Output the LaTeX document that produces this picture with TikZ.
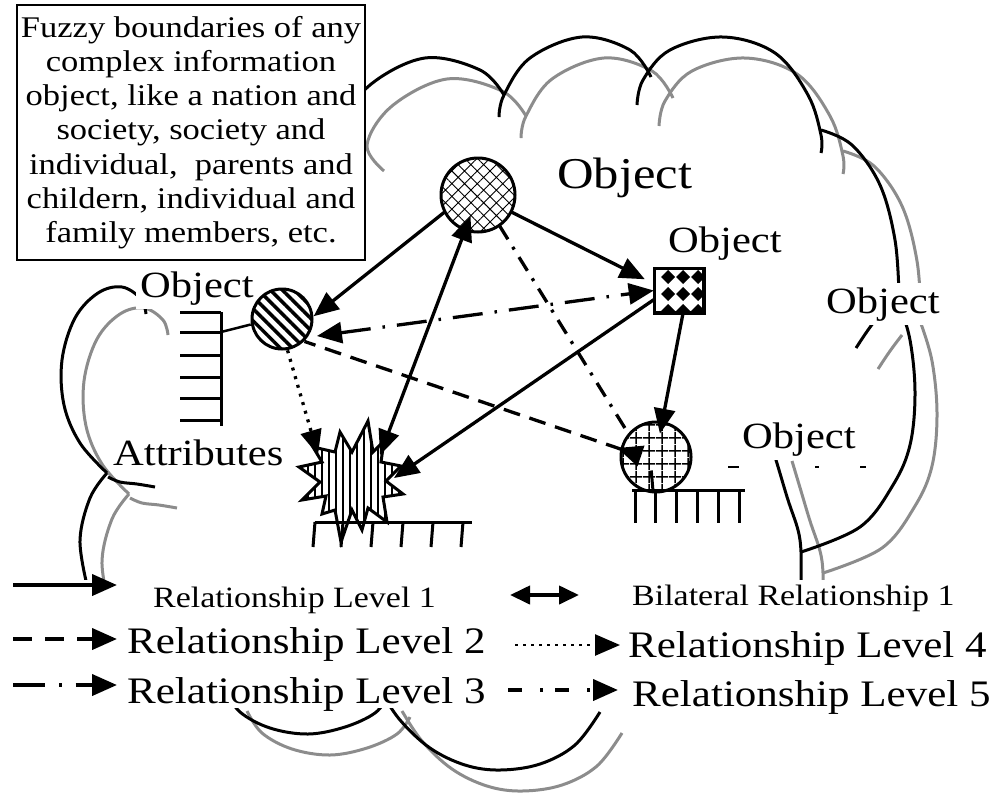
\documentclass[tikz,border=0pt]{standalone}
\usepackage{fontspec}
\setmainfont{Liberation Serif}[FakeStretch=1.15]
\usetikzlibrary{arrows.meta,patterns.meta}

\definecolor{cloudgray}{RGB}{140,140,140}

\newcommand{\notefont}{\fontsize{30}{34.2}\selectfont}
\newcommand{\objfont}{\fontsize{37}{40}\selectfont}
\newcommand{\bigobjfont}{\fontsize{44}{48}\selectfont}
\newcommand{\legfont}{\fontsize{37.4}{40}\selectfont}
\newcommand{\smalllegfont}{\fontsize{29.5}{32}\selectfont}

% one outline of the cloud, drawn twice (grey copy shifted)
\newcommand{\cloudoutline}{%
  \draw plot[smooth, tension=0.6] coordinates {(362,150) (345,124) (370,85) (425,58) (480,70) (504,95)};
  \draw plot[smooth, tension=0.6] coordinates {(499,117) (504,95) (530,58) (582,37) (630,50) (651,77)};
  \draw plot[smooth, tension=0.6] coordinates {(637,105) (643,80) (670,50) (723,37) (775,53) (808,95) (821,135) (821,153)};
  \draw plot[smooth, tension=0.6] coordinates {(821,130) (852,145) (880,185) (895,240) (899,295)};
  \draw plot[smooth, tension=0.6] coordinates {(856,348) (868,330) (880,314)};
  \draw plot[smooth, tension=0.6] coordinates {(898,300) (910,340) (915,393) (910,445) (893,485) (860,527) (801,552)};
  \draw plot[smooth, tension=0.6] coordinates {(770,440) (779,470) (788,500) (798,530) (801,552) (801,585)};
  \draw plot[smooth, tension=0.6] coordinates {(146,314) (141,299) (122,287) (98,293) (75,318) (62,360) (64,405) (80,443) (107,473)};
  \draw plot[smooth, tension=0.6] coordinates {(107,473) (90,498) (80,540) (87,585)};
  \draw plot[smooth, tension=0.6] coordinates {(108,477) (120,482) (137,484) (155,487)};
  \draw plot[smooth, tension=0.6] coordinates {(225,690) (240,712) (270,728) (308,734) (345,727) (375,713) (388,696)};
  \draw plot[smooth, tension=0.6] coordinates {(380,690) (400,720) (430,748) (465,765) (500,770) (540,764) (575,745) (600,712)};
}

\tikzset{
  objlabel/.style={fill=white, inner sep=4pt, anchor=base west, font=\objfont},
  legtext/.style={inner sep=0pt, anchor=base west, font=\legfont},
  rel/.style={line width=3.3pt},
  relhead/.style={-{Triangle[length=25pt,width=21pt]}},
  bothheads/.style={{Triangle[length=25pt,width=21pt]}-{Triangle[length=25pt,width=21pt]}},
  rel2/.style={rel, dash pattern=on 17pt off 10pt},
  rel3/.style={rel, dash pattern=on 30pt off 12pt on 2.5pt off 12pt},
  rel4/.style={rel, dash pattern=on 3pt off 6pt},
  rel5/.style={rel, dash pattern=on 16pt off 9pt on 3pt off 9pt},
  legline/.style={line width=4pt},
  leghead/.style={-{Triangle[length=25pt,width=21pt]}},
  comb/.style={line width=3pt},
}

\begin{document}
\begin{tikzpicture}[x=1pt, y=-1pt]

\useasboundingbox (0,0) rectangle (992,801);

% cloud
\begin{scope}[shift={(22,21)}, cloudgray, line width=3pt]
  \cloudoutline
\end{scope}
\begin{scope}[black, line width=3pt]
  \cloudoutline
\end{scope}
\fill[white] (0,580) rectangle (992,708);

% note and labels
\node[rectangle, draw, fill=white, line width=2.5pt,
      minimum width=348pt, minimum height=255pt,
      inner sep=0pt, align=center, font=\notefont]
(note) at (191,132.5) {Fuzzy boundaries of any\\complex information\\object, like a nation and\\society, society and\\individual,\ \ parents and\\childern, individual and\\family members, etc.};

\node[objlabel, font=\bigobjfont] (objtop) at (553,188) {Object};
\node[objlabel] (objsq) at (664,252) {Object};
\node[objlabel] (objleft) at (136,297) {Object};
\node[objlabel] (objright) at (822,313) {Object};
\node[objlabel] (objlow) at (738,448) {Object};
\node[objlabel] (attrlabel) at (109,465) {Attributes};

\draw[line width=1.5pt] (728,467) -- (739,467) (815,467) -- (819,467) (860,467) -- (866,467);

% objects
\node[circle, draw, line width=3pt, minimum size=74pt, inner sep=0pt,
      preaction={fill=white}, pattern={Hatch[angle=45,distance=9pt,line width=0.9pt]}]
(tc) at (478,195) {};

\node[circle, draw, line width=3pt, minimum size=60pt, inner sep=0pt,
      preaction={fill=white}, pattern={Lines[angle=-45,distance=8.5pt,line width=3.5pt]}]
(lc) at (282,319) {};

\node[rectangle, draw, line width=2.5pt, fill=white,
      minimum width=48pt, minimum height=43pt, inner sep=0pt]
(sq) at (679,290.5) {};
\begin{scope}
  \clip (sq.south west) rectangle (sq.north east);
  \foreach \cx in {668,683,698}
    \foreach \cy in {260,277,294,311}
      \fill (\cx,\cy-7) -- (\cx+7,\cy) -- (\cx,\cy+7) -- (\cx-7,\cy) -- cycle;
\end{scope}
\draw[line width=2.5pt] (sq.south west) rectangle (sq.north east);

\node[circle, draw, line width=3pt, minimum size=70pt, inner sep=0pt,
      preaction={fill=white}, pattern={Hatch[angle=0,distance=13pt,line width=1.4pt]}]
(rc) at (656,457) {};

% attributes burst
\draw[line width=3pt, preaction={fill=white},
      pattern={Lines[angle=90,distance=7pt,line width=2.6pt]}]
  (368,421) -- (373,452) -- (384,441) -- (381,462) -- (401,466) -- (386,481)
  -- (403,494) -- (383,497) -- (387,522) -- (368,508) -- (362,530) -- (352,510)
  -- (341,542) -- (335,510) -- (322,514) -- (326,496) -- (302,500) -- (320,482)
  -- (299,467) -- (322,462) -- (313,447) -- (335,452) -- (340,432) -- (352,452) -- cycle;
\coordinate (attrT) at (380,455);
\coordinate (attrR) at (394,478);
\coordinate (attrL) at (318,455);

% attribute combs
\draw[comb] (221,312) -- (221,426);
\foreach \ty in {312,332,355,377,398,420}
  \draw[comb] (180,\ty) -- (221,\ty);
\coordinate (combL) at (221,332);
\draw[line width=2.5pt] (lc.190) -- (combL);

\draw[comb] (315,522) -- (472,522);
\foreach \tx in {315,343,373,403,433,463}
  \draw[comb] (\tx,522) -- (\tx-2,547);

\draw[comb] (632,490) -- (745,490);
\foreach \tx in {635,655,676,697,718,739}
  \draw[comb] (\tx,490) -- (\tx,523);
\coordinate (combR) at (653,491);
\draw[comb] (rc.-96) ++(-1,-22) -- (combR);

% relationships
\draw[rel, relhead] (tc.207) -- (lc.5);
\draw[rel, relhead, shorten >=10pt] (tc.-27) -- (sq.165);
\draw[rel, bothheads, shorten >=-15pt] (attrT) -- (tc.250);
\draw[rel, relhead] (sq.200) -- (attrR);
\draw[rel, relhead, shorten >=-12pt] (sq.-80) -- (rc.80);
\draw[rel3, bothheads, shorten <=9pt] (lc.-35) -- (sq.west);
\coordinate (rcL) at (641,456);
\draw[rel2, {Triangle[length=25pt,width=21pt,reversed]}-] (rcL) -- (lc.-45);
\draw[rel5] (tc.-55) -- (rc.140);
\draw[rel4, relhead] (lc.-80) -- (attrL);

% legend
\coordinate (lg1a) at (13,585);  \coordinate (lg1b) at (117,585);
\coordinate (lg2a) at (510,595); \coordinate (lg2b) at (579,595);
\coordinate (lg3a) at (13,639);  \coordinate (lg3b) at (117,639);
\coordinate (lg4a) at (515,645); \coordinate (lg4b) at (620,645);
\coordinate (lg5a) at (13,685);  \coordinate (lg5b) at (117,685);
\coordinate (lg6a) at (508,690); \coordinate (lg6b) at (618,690);

\draw[legline, leghead] (lg1a) -- (lg1b);
\draw[legline, {Triangle[length=20pt,width=18pt]}-{Triangle[length=20pt,width=18pt]}] (lg2a) -- (lg2b);
\draw[legline, leghead, dash pattern=on 19pt off 13pt] (lg3a) -- (lg3b);
\draw[line width=2.5pt, leghead, dash pattern=on 2.5pt off 5.5pt] (lg4a) -- (lg4b);
\draw[legline, leghead, dash pattern=on 32pt off 14pt on 2.5pt off 14pt] (lg5a) -- (lg5b);
\draw[legline, leghead, dash pattern=on 14pt off 18pt on 3pt off 12pt] (lg6a) -- (lg6b);

\node[legtext, font=\smalllegfont] (leg1) at (153,607) {Relationship Level 1};
\node[legtext, font=\smalllegfont] (legbi) at (632,605) {Bilateral Relationship 1};
\node[legtext] (leg2) at (127,653) {Relationship Level 2};
\node[legtext] (leg4) at (628,657) {Relationship Level 4};
\node[legtext] (leg3) at (127,703) {Relationship Level 3};
\node[legtext] (leg5) at (632,706) {Relationship Level 5};

\end{tikzpicture}
\end{document}
